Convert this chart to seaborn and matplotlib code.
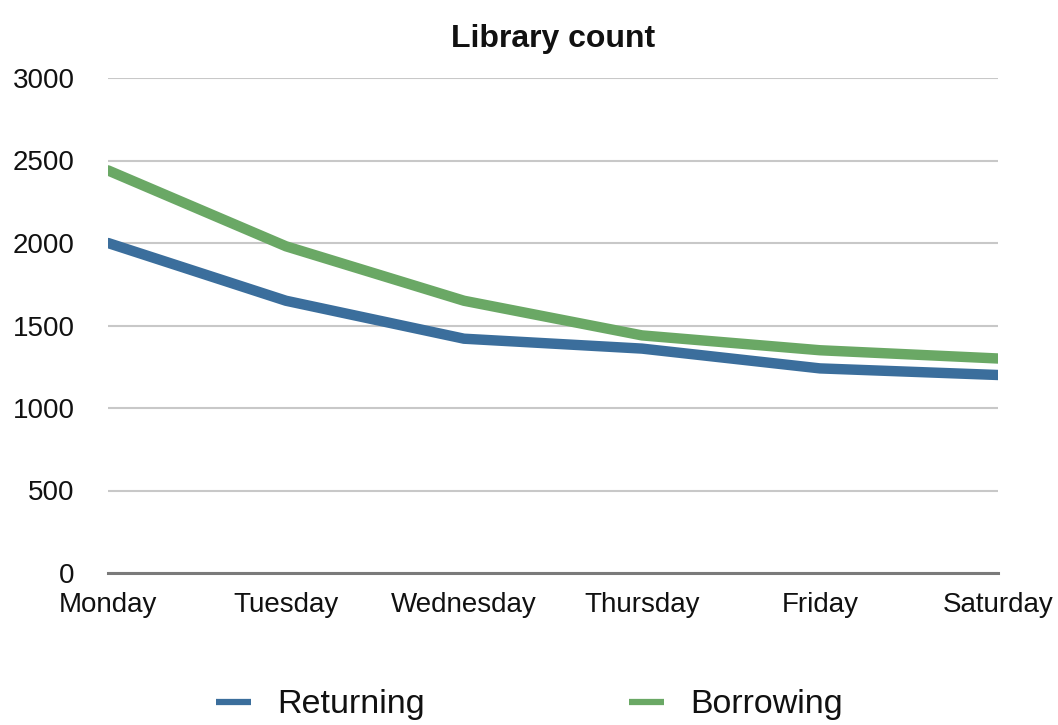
import matplotlib
matplotlib.use("Agg")
import matplotlib.pyplot as plt
import seaborn as sns
import pandas as pd

days = ["Monday", "Tuesday", "Wednesday", "Thursday", "Friday", "Saturday"]
returning = [2000, 1650, 1420, 1360, 1240, 1200]
borrowing = [2440, 1980, 1650, 1440, 1350, 1300]
series_names = ["Returning", "Borrowing"]
colors = ["#3b6e9c", "#6aa865"]
y_ticks = [0, 500, 1000, 1500, 2000, 2500, 3000]

sns.set_theme(style="white")
plt.rcParams["font.family"] = ["Liberation Sans", "DejaVu Sans"]
plt.rcParams["text.color"] = "#111111"

df = pd.DataFrame({
    "day": days * 2,
    "x": list(range(len(days))) * 2,
    "value": returning + borrowing,
    "series": [series_names[0]] * len(days) + [series_names[1]] * len(days),
})

fig = plt.figure(figsize=(10.58, 7.25), dpi=100)
ax = fig.add_axes([108 / 1058, 1 - 573 / 725, (998 - 108) / 1058, (573 - 78) / 725])

sns.lineplot(data=df, x="x", y="value", hue="series", hue_order=series_names,
             palette=colors, linewidth=7.5, ax=ax, legend=True)
for ln in ax.get_lines():
    ln.set_solid_joinstyle("round")

ax.set_xlim(0, len(days) - 1)
ax.set_ylim(0, 3000)
ax.set_xticks(range(len(days)))
ax.set_xticklabels(days)
ax.set_yticks(y_ticks)
ax.set_yticklabels([str(t) for t in y_ticks])
ax.set_xlabel("")
ax.set_ylabel("")
ax.grid(axis="y", color="#c8c8c8", linewidth=1.5)
ax.grid(axis="x", visible=False)
ax.set_axisbelow(True)
for s in ["top", "right", "left"]:
    ax.spines[s].set_visible(False)
ax.spines["bottom"].set_color("#7a7a7a")
ax.spines["bottom"].set_linewidth(2.2)
ax.spines["bottom"].set_zorder(1)
ax.tick_params(axis="y", length=0, pad=24, labelsize=20, labelcolor="#111111")
ax.tick_params(axis="x", length=0, pad=14, labelsize=20, labelcolor="#111111")

ax.set_title("Library count", fontsize=23, fontweight="bold", pad=22, color="#111111")

handles, labels = ax.get_legend_handles_labels()
for h in handles:
    h.set_linewidth(4.5)
    h.set_solid_capstyle("butt")
leg = ax.legend(handles, labels, loc="center", bbox_to_anchor=(0.5, (725 - 705) / 725),
                bbox_transform=fig.transFigure, ncol=2, frameon=False, fontsize=24.5,
                handlelength=1.05, handletextpad=0.75, columnspacing=6.0)
for t in leg.get_texts():
    t.set_color("#111111")

fig.savefig("out.png", dpi=100)
